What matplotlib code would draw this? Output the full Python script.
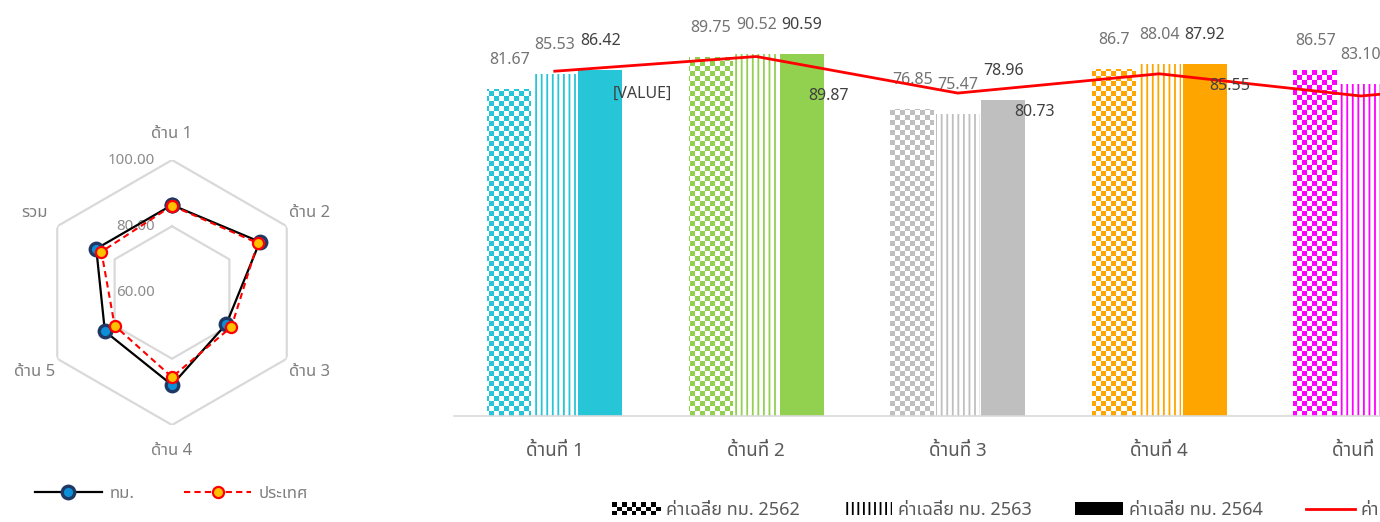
import numpy as np
import matplotlib
matplotlib.use('Agg')
import matplotlib.pyplot as plt
from matplotlib import font_manager
from matplotlib.ft2font import FT2Font
from matplotlib.patches import Rectangle, Patch
from matplotlib.lines import Line2D
from matplotlib.legend_handler import HandlerBase


def find_thai_font():
    # pick any installed family that has Thai glyphs
    prefer = ['Tahoma', 'Leelawadee UI', 'Noto Sans Thai', 'Noto Sans Thai UI',
              'Sarabun', 'Loma', 'Garuda', 'Kinnari', 'Waree', 'Umpush', 'Norasi']
    found = {}
    for f in font_manager.fontManager.ttflist:
        try:
            if 0x0E14 in FT2Font(f.fname).get_charmap():
                found.setdefault(f.name, f.fname)
        except Exception:
            continue
    for p in prefer:
        if p in found:
            return p
    return next(iter(found), None)


thai = find_thai_font()
plt.rcParams['font.family'] = ([thai] if thai else []) + ['DejaVu Sans']
plt.rcParams['hatch.linewidth'] = 1.3

# ---- radar data
radar_cats = ['ด้าน 1', 'ด้าน 2', 'ด้าน 3', 'ด้าน 4', 'ด้าน 5', 'รวม']
radar_tm = [86.42, 90.59, 78.96, 87.92, 83.40, 86.40]
radar_country = [86.20, 89.87, 80.73, 85.55, 80.00, 84.60]
radar_ticks = [100, 80, 60]

# ---- bar data
bar_cats = ['ด้านที่ 1', 'ด้านที่ 2', 'ด้านที่ 3', 'ด้านที่ 4', 'ด้านที่ 5', 'รวม']
avg62_txt = ['81.67', '89.75', '76.85', '86.7', '86.57', '84.31']
avg63_txt = ['85.53', '90.52', '75.47', '88.04', '83.10', '84.53']
avg64_txt = ['86.42', '90.59', '78.96', '87.92', '83.40', '86.40']
nation_txt = ['[VALUE]', '89.87', '80.73', '85.55', '80.00', '84.60']
nation = [86.20, 89.87, 80.73, 85.55, 80.00, 84.60]
group_colors = ['#26C6D8', '#92D050', '#BFBFBF', '#FFA500', '#FF00FF', '#5B9BD5']
series_names = ['ค่าเฉลี่ย ทม. 2562', 'ค่าเฉลี่ย ทม. 2563', 'ค่าเฉลี่ย ทม. 2564', 'ค่าเฉลี่ยประเทศ']

avg62 = [float(s) for s in avg62_txt]
avg63 = [float(s) for s in avg63_txt]
avg64 = [float(s) for s in avg64_txt]

W, H = 1380, 522
fig = plt.figure(figsize=(W / 100, H / 100), dpi=100)

# ================= radar =================
cx, cy, R = 172, 292.5, 132.5
rax = fig.add_axes([(cx - R) / W, (H - cy - R) / H, 2 * R / W, 2 * R / H], projection='polar')
rax.set_theta_zero_location('N')
rax.set_theta_direction(-1)
angles = np.arange(len(radar_cats)) * 2 * np.pi / len(radar_cats)
closed = np.r_[angles, angles[0]]
rax.set_ylim(60, 100)
rax.grid(False)
rax.spines['polar'].set_visible(False)
rax.set_xticks([])
rax.set_yticks([])
rax.patch.set_visible(False)
for r in (80, 100):
    rax.plot(closed, [r] * len(closed), color='#D9D9D9', lw=1.6, zorder=1)

l1, = rax.plot(closed, radar_tm + radar_tm[:1], color='black', lw=1.6, marker='o', ms=9,
               mfc='#0B8FD8', mec='#1F3864', mew=2.4, zorder=3)
l2, = rax.plot(closed, radar_country + radar_country[:1], color='#FF0000', lw=1.5, ls='--',
               dashes=(3, 2), marker='o', ms=8, mfc='#FFC000', mec='#FF0000', mew=1.6, zorder=4)

for t in radar_ticks:
    rax.annotate(f'{t:.2f}', (0, t), xytext=(-17, 0), textcoords='offset pixels',
                 ha='right', va='center', fontsize=10.8, color='#8C8C8C', zorder=2)
for a, lab in zip(angles, radar_cats):
    rax.text(a, 107.8, lab, ha='center', va='center', fontsize=12, color='#7F7F7F')

fig.legend([l1, l2], ['ทม.', 'ประเทศ'], ncol=2, loc='center left',
           bbox_to_anchor=(35 / W, 1 - 494 / H), frameon=False, fontsize=12,
           handlelength=4.0, handletextpad=0.45, columnspacing=3.0,
           labelcolor='#7F7F7F', borderaxespad=0, borderpad=0)

# ================= bars =================
left, base, gw = 454, 416, 201.5
bax = fig.add_axes([left / W, (H - base) / H, gw * len(bar_cats) / W, 400 / H])
x = np.arange(len(bar_cats))
bw, off = 0.218, 0.226

bars62 = bax.bar(x - off, avg62, bw, color='white', lw=0, zorder=2)
bars63 = bax.bar(x, avg63, bw, color='white', edgecolor=group_colors, lw=0, hatch='|||', zorder=2)
bars64 = bax.bar(x + off, avg64, bw, color=group_colors, lw=0, zorder=2)

# checkerboard fill for 2562 bars, clipped to each bar
nx, ny = int(gw * len(bar_cats) / 5), 80
chk = (np.add.outer(np.arange(ny), np.arange(nx)) % 2) == 0
for b, c in zip(bars62, group_colors):
    rgba = np.ones((ny, nx, 4))
    rgba[chk, :3] = matplotlib.colors.to_rgb(c)
    im = bax.imshow(rgba, extent=(0, 1, 0, 1), transform=bax.transAxes, aspect='auto',
                    interpolation='nearest', zorder=2.5)
    im.set_clip_path(b)

bax.plot(x, nation, color='#FF0000', lw=2, zorder=4)

for bars, txts, col in ((bars62, avg62_txt, '#737373'), (bars63, avg63_txt, '#737373'),
                        (bars64, avg64_txt, '#404040')):
    for b, t in zip(bars, txts):
        bax.annotate(t, (b.get_x() + b.get_width() / 2, b.get_height()), xytext=(0, 29),
                     textcoords='offset pixels', ha='center', va='center', fontsize=11.5, color=col)

line_offsets = [(88, -23), (72, -39), (77, -19), (71, -12), (75, -15), (75, -15)]
for xi, v, t, (dx, dy) in zip(x, nation, nation_txt, line_offsets):
    bax.annotate(t, (xi, v), xytext=(dx, dy), textcoords='offset pixels',
                 ha='center', va='center', fontsize=11.5, color='#404040', zorder=5)

bax.set_xlim(-0.5, len(bar_cats) - 0.5)
bax.set_ylim(0, 100)
bax.set_xticks(x)
bax.set_xticklabels(bar_cats, fontsize=13.5, color='#595959')
bax.tick_params(axis='x', length=0, pad=19)
bax.set_yticks([])
for s in ('left', 'right', 'top'):
    bax.spines[s].set_visible(False)
bax.spines['bottom'].set_color('#D9D9D9')
bax.spines['bottom'].set_linewidth(1.2)


class CheckerHandler(HandlerBase):
    def create_artists(self, legend, orig_handle, xdescent, ydescent, width, height, fontsize, trans):
        arts = []
        n_c, n_r = 10, 3
        sw, sh = width / n_c, height / n_r
        for i in range(n_r):
            for j in range(n_c):
                fc = 'black' if (i + j) % 2 == 0 else 'white'
                arts.append(Rectangle((-xdescent + j * sw, -ydescent + i * sh), sw, sh,
                                      facecolor=fc, lw=0, transform=trans))
        return arts


h62 = Patch(facecolor='white')
h63 = Patch(facecolor='white', edgecolor='black', hatch='|||', lw=0)
h64 = Patch(facecolor='black')
hnat = Line2D([], [], color='#FF0000', lw=2)
fig.legend([h62, h63, h64, hnat], series_names, ncol=4, loc='center left',
           bbox_to_anchor=(612 / W, 1 - 510 / H), frameon=False, fontsize=13,
           handlelength=2.7, handleheight=0.7, handletextpad=0.3, columnspacing=2.4,
           labelcolor='#595959', borderaxespad=0, borderpad=0,
           handler_map={h62: CheckerHandler()})

fig.savefig('out.png', dpi=100)
